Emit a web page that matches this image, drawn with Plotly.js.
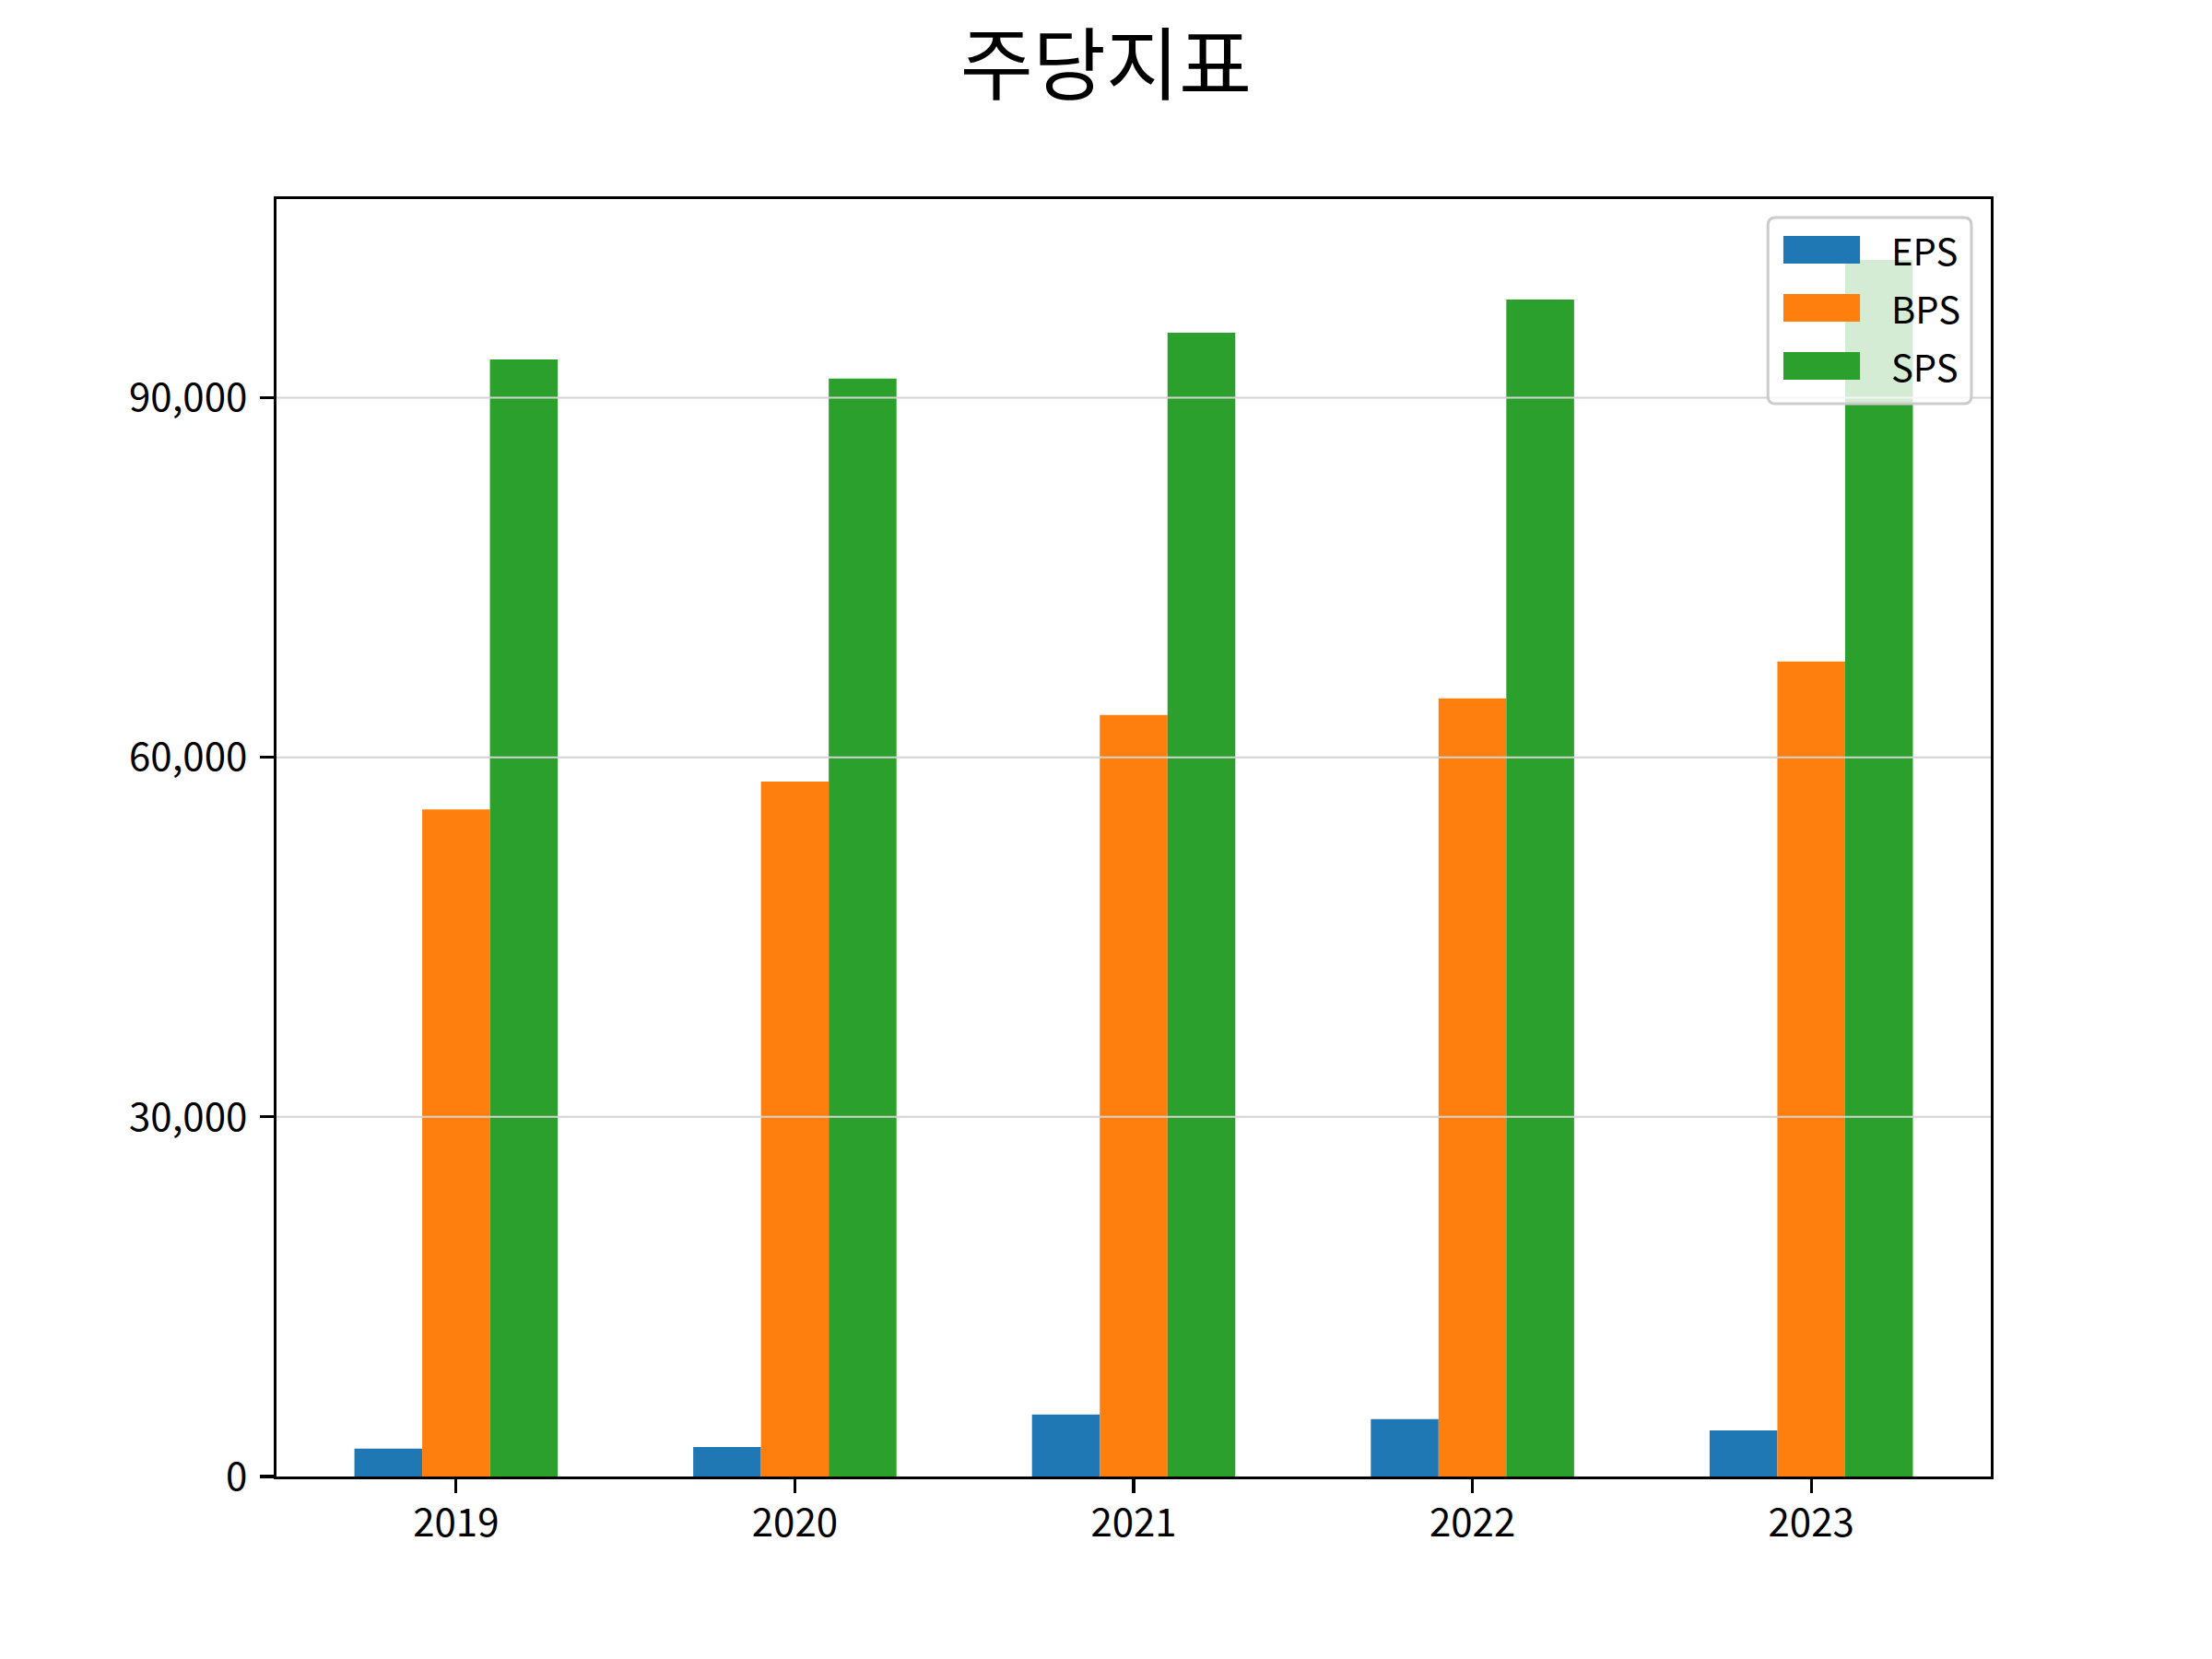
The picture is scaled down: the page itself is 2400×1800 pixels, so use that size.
<!DOCTYPE html>
<html>
<head>
<meta charset="utf-8">
<script src="https://cdn.plot.ly/plotly-3.0.1.min.js"></script>
<style>
  body { margin: 0; background: #fff; }
  #chart { width: 2400px; height: 1800px; }
</style>
</head>
<body>
<div id="chart"></div>
<script>
// 연도별 주당지표 (EPS / BPS / SPS)
var years = ['2019', '2020', '2021', '2022', '2023'];
var epsValues = [2330, 2460, 5170, 4780, 3840];
var bpsValues = [55660, 57980, 63530, 64920, 68000];
var spsValues = [93200, 91600, 95420, 98200, 101500];
var seriesNames = ['EPS', 'BPS', 'SPS'];
var seriesColors = ['#1f77b4', '#ff7f0e', '#2ca02c'];
var yTicks = [0, 30000, 60000, 90000];

var font = '"Noto Sans CJK KR", "Noto Sans", sans-serif';
var allValues = [epsValues, bpsValues, spsValues];

var data = [];
for (var i = 0; i < seriesNames.length; i++) {
  data.push({
    x: years,
    y: allValues[i],
    name: seriesNames[i],
    type: 'bar',
    marker: { color: seriesColors[i], line: { width: 0 } },
    hoverinfo: 'none'
  });
}

var yMax = Math.max.apply(null, spsValues) * 1.05;

// gridlines on top of the bars, like the original
var shapes = [];
yTicks.forEach(function (v) {
  if (v === 0) return;
  shapes.push({
    type: 'line', xref: 'paper', x0: 0, x1: 1, yref: 'y', y0: v, y1: v,
    line: { color: '#d3d3d3', width: 2 }, layer: 'above'
  });
});

// legend box (matplotlib style)
var lx0 = 0.870, lx1 = 0.9887, ly0 = 0.8398, ly1 = 0.9856;
var rx = 0.0045, ry = 0.006;
shapes.push({
  type: 'path', xref: 'paper', yref: 'paper', layer: 'above',
  path: 'M' + (lx0 + rx) + ',' + ly0 + ' L' + (lx1 - rx) + ',' + ly0 +
        ' Q' + lx1 + ',' + ly0 + ' ' + lx1 + ',' + (ly0 + ry) +
        ' L' + lx1 + ',' + (ly1 - ry) +
        ' Q' + lx1 + ',' + ly1 + ' ' + (lx1 - rx) + ',' + ly1 +
        ' L' + (lx0 + rx) + ',' + ly1 +
        ' Q' + lx0 + ',' + ly1 + ' ' + lx0 + ',' + (ly1 - ry) +
        ' L' + lx0 + ',' + (ly0 + ry) +
        ' Q' + lx0 + ',' + ly0 + ' ' + (lx0 + rx) + ',' + ly0 + ' Z',
  fillcolor: 'rgba(255,255,255,0.8)',
  line: { color: '#cccccc', width: 3 }
});

var annotations = [];
var plotTop = 216, plotH = 1386;
for (var k = 0; k < seriesNames.length; k++) {
  var cy = 271 + k * 63;
  var yc = 1 - (cy - plotTop) / plotH;
  var hh = 15 / plotH;
  shapes.push({
    type: 'rect', xref: 'paper', yref: 'paper', layer: 'above',
    x0: 0.879, x1: 0.9237, y0: yc - hh, y1: yc + hh,
    fillcolor: seriesColors[k], line: { width: 0 }
  });
  annotations.push({
    xref: 'paper', yref: 'paper', x: 0.941, y: yc,
    xanchor: 'left', yanchor: 'middle', showarrow: false,
    text: seriesNames[k],
    font: { family: font, size: 40, color: '#000' }
  });
}

var layout = {
  width: 2400,
  height: 1800,
  paper_bgcolor: '#fff',
  plot_bgcolor: '#fff',
  font: { family: font, size: 42, color: '#000' },
  title: {
    text: '주당지표',
    font: { family: font, size: 86, color: '#000' },
    x: 0.5, xanchor: 'center',
    y: 1 - 72 / 1800, yanchor: 'middle', yref: 'container'
  },
  margin: { l: 300, r: 240, t: 216, b: 198, pad: 0 },
  barmode: 'group',
  bargap: 0.4,
  bargroupgap: 0,
  showlegend: false,
  xaxis: {
    type: 'category',
    range: [-0.53, 4.53],
    showgrid: false,
    zeroline: false,
    showline: true, mirror: true, linecolor: '#000', linewidth: 3.3,
    ticks: 'outside', ticklen: 15, tickwidth: 3.3, tickcolor: '#000',
    ticklabelstandoff: -4,
    tickfont: { family: font, size: 42, color: '#000' }
  },
  yaxis: {
    range: [0, yMax],
    tickvals: yTicks,
    tickformat: ',',
    showgrid: false,
    zeroline: false,
    showline: true, mirror: true, linecolor: '#000', linewidth: 3.3,
    ticks: 'outside', ticklen: 15, tickwidth: 3.3, tickcolor: '#000',
    ticklabelstandoff: 5,
    tickfont: { family: font, size: 42, color: '#000' }
  },
  shapes: shapes,
  annotations: annotations
};

Plotly.newPlot('chart', data, layout, { staticPlot: true });
</script>
</body>
</html>
